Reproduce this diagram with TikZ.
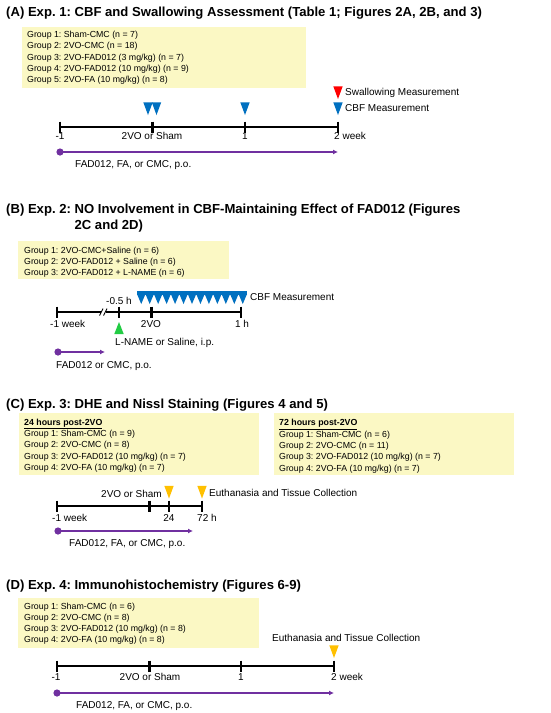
\documentclass[tikz,border=0pt]{standalone}
\usepackage{fontspec}
\setmainfont{Liberation Sans}
\usetikzlibrary{arrows.meta}
\frenchspacing
\definecolor{boxyellow}{HTML}{FBF8C4}
\definecolor{mblue}{HTML}{0070C0}
\definecolor{mred}{HTML}{FF0000}
\definecolor{mgreen}{HTML}{22CC44}
\definecolor{morange}{HTML}{FFC000}
\definecolor{mpurple}{HTML}{7030A0}
\begin{document}
\frenchspacing
\begin{tikzpicture}[x=1pt,y=-1pt,
  title/.style={anchor=base west, font=\fontsize{13.1}{15}\selectfont\bfseries, inner sep=0pt},
  grp/.style={anchor=north west, align=left, font=\fontsize{8.8}{11.4}\selectfont, inner sep=0pt},
  ybox/.style={fill=boxyellow, draw=none},
  lab/.style={anchor=base, font=\fontsize{10}{12}\selectfont, inner sep=0pt},
  labw/.style={lab, anchor=base west},
  labe/.style={lab, anchor=base east},
  tline/.style={line width=1.2pt},
  tk/.style={line width=1.2pt},
  thk/.style={line width=3pt},
  parrow/.style={mpurple, line width=1.5pt, -{Latex[length=5pt,width=5pt]}},
  pdot/.style={fill=mpurple, draw=none},
  downtri/.pic={\fill[pic actions] (-4.7,-12.7) -- (4.7,-12.7) -- (0,0) -- cycle;},
  uptri/.pic={\fill[pic actions] (-4.7,12) -- (4.7,12) -- (0,0) -- cycle;}
]
\useasboundingbox (0,0) rectangle (550,713);
\fill[white] (0,0) rectangle (550,713);

% ================= (A) =================
\node[title] (tA) at (6,16.5) {(A) Exp. 1: CBF and Swallowing Assessment (Table 1; Figures 2A, 2B, and 3)};
\fill[ybox] (22,27) rectangle (306,88);
\node[grp] (gA) at (27,30.8) {Group 1: Sham-CMC (n = 7)\\Group 2: 2VO-CMC (n = 18)\\Group 3: 2VO-FAD012 (3 mg/kg) (n = 7)\\Group 4: 2VO-FAD012 (10 mg/kg) (n = 9)\\Group 5: 2VO-FA (10 mg/kg) (n = 8)};
\coordinate (a0) at (60,127);
\coordinate (a3) at (338,127);
\draw[tline] (a0) -- (a3);
\draw[tk] (60,121.5) -- (60,132.5);
\draw[thk] (152,121.5) -- (152,132.5);
\draw[tk] (245,121.5) -- (245,132.5);
\draw[tk] (338,121.5) -- (338,132.5);
\node[lab] (aL0) at (60,139.6) {-1};
\node[lab] (aL1) at (152,139.6) {2VO or Sham};
\node[lab] (aL2) at (245,139.6) {1};
\node[labw] (aL3) at (334,139.6) {2 week};
\pic[fill=mblue] at (148,115) {downtri};
\pic[fill=mblue] at (156.5,115) {downtri};
\pic[fill=mblue] at (245,115) {downtri};
\pic[fill=mblue] at (338,115) {downtri};
\pic[fill=mred] at (338,99) {downtri};
\node[labw] (aSw) at (345,95.6) {Swallowing Measurement};
\node[labw] (aCBF) at (345,111.6) {CBF Measurement};
\coordinate (ap0) at (60,152);
\coordinate (ap1) at (338,152);
\fill[pdot] (ap0) circle (3.6);
\draw[parrow] (ap0) -- (ap1);
\node[labw] (aFAD) at (75,167.6) {FAD012, FA, or CMC, p.o.};

% ================= (B) =================
\node[title] (tB1) at (6,213.5) {(B) Exp. 2: NO Involvement in CBF-Maintaining Effect of FAD012 (Figures};
\node[title] (tB2) at (6,229.5) {\phantom{(B) Exp. 2: }2C and 2D)};
\fill[ybox] (18,241) rectangle (229,279);
\node[grp, font=\fontsize{8.8}{11}\selectfont] (gB) at (24,246.8) {Group 1: 2VO-CMC+Saline (n = 6)\\Group 2: 2VO-FAD012 + Saline (n = 6)\\Group 3: 2VO-FAD012 + L-NAME (n = 6)};
\coordinate (b0) at (57,312);
\coordinate (bb1) at (101,312);
\coordinate (bb2) at (106,312);
\coordinate (b3) at (241,312);
\draw[tline] (b0) -- (bb1);
\draw[tline] (bb2) -- (b3);
\draw[line width=0.9pt] (99.5,315.5) -- (103,308.5);
\draw[line width=0.9pt] (103.5,315.5) -- (107,308.5);
\draw[tk] (57,306.5) -- (57,317.5);
\draw[tk] (119,306.5) -- (119,317.5);
\draw[thk] (151,306.5) -- (151,317.5);
\draw[tk] (241,306.5) -- (241,317.5);
\node[lab] (bL05) at (119,304.6) {-0.5 h};
\node[labw] (bL0) at (50,327.6) {-1 week};
\node[lab] (bL2) at (151,327.6) {2VO};
\node[lab] (bL3) at (242,327.6) {1 h};
\fill[mblue] (137,291) rectangle (247,294.5);
\foreach \i in {0,...,12} {
  \fill[mblue] ({137+\i*110/13},294) -- ({137+(\i+1)*110/13},294) -- ({137+(\i+0.5)*110/13},304) -- cycle;
}
\node[labw] (bCBF) at (250,300.6) {CBF Measurement};
\pic[fill=mgreen] at (119,322) {uptri};
\node[labw] (bLN) at (115,345.6) {L-NAME or Saline, i.p.};
\coordinate (bp0) at (58,352);
\coordinate (bp1) at (105,352);
\fill[pdot] (bp0) circle (3.6);
\draw[parrow] (bp0) -- (bp1);
\node[labw] (bFAD) at (56,368.6) {FAD012 or CMC, p.o.};

% ================= (C) =================
\node[title] (tC) at (6,408.5) {(C) Exp. 3: DHE and Nissl Staining (Figures 4 and 5)};
\fill[ybox] (19,413) rectangle (259,475);
\fill[ybox] (274,413) rectangle (514,475);
\node[grp, font=\fontsize{8.8}{11.3}\selectfont] (gC1) at (24,418.8) {\underline{\textbf{24 hours post-2VO}}\\Group 1: Sham-CMC (n = 9)\\Group 2: 2VO-CMC (n = 8)\\Group 3: 2VO-FAD012 (10 mg/kg) (n = 7)\\Group 4: 2VO-FA (10 mg/kg) (n = 7)};
\node[grp, font=\fontsize{8.8}{11.3}\selectfont] (gC2) at (279,419.3) {\underline{\textbf{72 hours post-2VO}}\\Group 1: Sham-CMC (n = 6)\\Group 2: 2VO-CMC (n = 11)\\Group 3: 2VO-FAD012 (10 mg/kg) (n = 7)\\Group 4: 2VO-FA (10 mg/kg) (n = 7)};
\coordinate (c0) at (57,506);
\coordinate (c3) at (202,506);
\draw[tline] (c0) -- (c3);
\draw[tk] (57,500.5) -- (57,511.5);
\draw[thk] (149,500.5) -- (149,511.5);
\draw[tk] (169,500.5) -- (169,511.5);
\draw[tk] (202,500.5) -- (202,511.5);
\node[labe] (cSham) at (162,497.6) {2VO or Sham};
\pic[fill=morange] at (169,498.5) {downtri};
\pic[fill=morange] at (202,498.5) {downtri};
\node[labw] (cEu) at (209,496.6) {Euthanasia and Tissue Collection};
\node[labw] (cL0) at (52,521.6) {-1 week};
\node[lab] (cL1) at (169,521.6) {24};
\node[labw] (cL2) at (197,521.6) {72 h};
\coordinate (cp0) at (58,531);
\coordinate (cp1) at (193,531);
\fill[pdot] (cp0) circle (3.6);
\draw[parrow] (cp0) -- (cp1);
\node[labw] (cFAD) at (69,546.6) {FAD012, FA, or CMC, p.o.};

% ================= (D) =================
\node[title] (tD) at (6,589.5) {(D) Exp. 4: Immunohistochemistry (Figures 6-9)};
\fill[ybox] (18,598) rectangle (259,648);
\node[grp, font=\fontsize{8.8}{11}\selectfont] (gD) at (24,602.8) {Group 1: Sham-CMC (n = 6)\\Group 2: 2VO-CMC (n = 8)\\Group 3: 2VO-FAD012 (10 mg/kg) (n = 8)\\Group 4: 2VO-FA (10 mg/kg) (n = 8)};
\node[labw] (dEu) at (272,641.6) {Euthanasia and Tissue Collection};
\pic[fill=morange] at (334,658) {downtri};
\coordinate (d0) at (57,666);
\coordinate (d3) at (334,666);
\draw[tline] (d0) -- (d3);
\draw[tk] (57,660.5) -- (57,671.5);
\draw[thk] (149,660.5) -- (149,671.5);
\draw[tk] (241,660.5) -- (241,671.5);
\draw[tk] (334,660.5) -- (334,671.5);
\node[lab] (dL0) at (56,680.6) {-1};
\node[lab] (dL1) at (150,680.6) {2VO or Sham};
\node[lab] (dL2) at (241,680.6) {1};
\node[labw] (dL3) at (331,680.6) {2 week};
\coordinate (dp0) at (57,693);
\coordinate (dp1) at (334,693);
\fill[pdot] (dp0) circle (3.6);
\draw[parrow] (dp0) -- (dp1);
\node[labw] (dFAD) at (76,708.6) {FAD012, FA, or CMC, p.o.};
\end{tikzpicture}
\end{document}
